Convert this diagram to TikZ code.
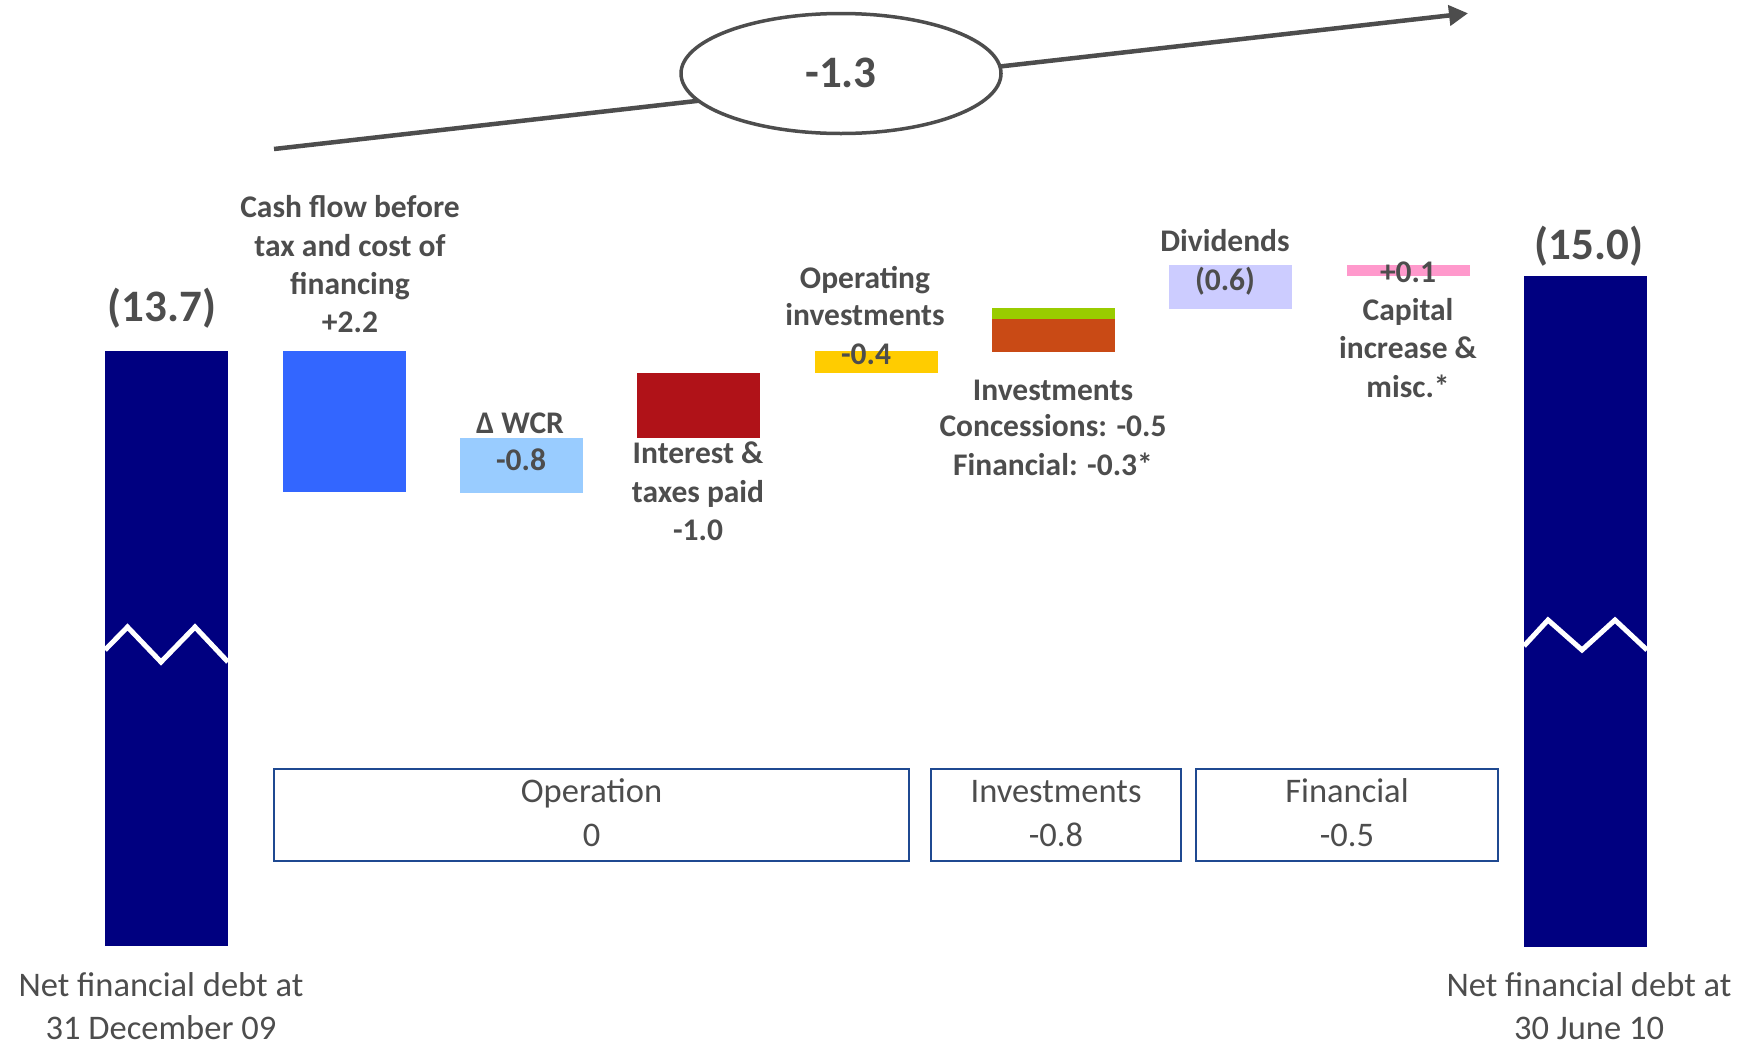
\documentclass[tikz,border=0pt]{standalone}
\usepackage{fontspec}
\setmainfont{Carlito}
\usetikzlibrary{arrows.meta,shapes.geometric}
\definecolor{txt}{RGB}{77,77,77}
\definecolor{linegray}{RGB}{77,77,77}
\definecolor{navybar}{RGB}{0,0,128}
\definecolor{bluebar}{RGB}{51,102,255}
\definecolor{wcrbar}{RGB}{153,204,255}
\definecolor{redbar}{RGB}{176,18,24}
\definecolor{yellowbar}{RGB}{255,204,0}
\definecolor{greenbar}{RGB}{153,204,0}
\definecolor{orangebar}{RGB}{201,74,21}
\definecolor{divbar}{RGB}{204,204,255}
\definecolor{pinkbar}{RGB}{255,153,204}
\definecolor{boxblue}{RGB}{31,73,145}
\begin{document}
\begin{tikzpicture}[x=1pt,y=-1pt,
  lb/.style={font=\bfseries\fontsize{31.5}{38}\selectfont, text=txt, anchor=base, inner sep=0},
  big/.style={font=\bfseries\fontsize{45}{54}\selectfont, text=txt, anchor=base, inner sep=0},
  rg/.style={font=\fontsize{34.5}{41}\selectfont, text=txt, anchor=base, inner sep=0},
  grp/.style={draw=boxblue, line width=2.5pt, fill=white},
  zig/.style={white, line width=5pt, line join=miter}]
\useasboundingbox (0,0) rectangle (1761,1047);

% trend arrow and ellipse
\coordinate (s) at (274,149);
\coordinate (t) at (1468,13.3);
\draw[linegray, line width=4.5pt, -{Triangle[length=19pt,width=20pt]}] (s) -- (t);
\node (ell) [ellipse, draw=linegray, line width=3.5pt, fill=white, minimum width=320pt, minimum height=120pt, inner sep=0] at (841,73.5) {};
\node (tot) [big] at (841,87) {-1.3};

% bars
\fill[navybar] (105,351) rectangle (228,946);
\draw[zig] (105,650) -- (127.5,627) -- (161,662) -- (195,627) -- (228,662);
\fill[bluebar] (283,351) rectangle (406,492);
\fill[wcrbar] (460,438) rectangle (583,493);
\fill[redbar] (637,373) rectangle (760,438);
\fill[yellowbar] (815,351) rectangle (938,373);
\fill[greenbar] (992,308) rectangle (1115,319);
\fill[orangebar] (992,319) rectangle (1115,352);
\fill[divbar] (1169,265) rectangle (1292,309);
\fill[pinkbar] (1347,265) rectangle (1470,276);
\fill[navybar] (1524,276) rectangle (1647,947);
\draw[zig] (1524,646) -- (1548,620) -- (1582,650) -- (1615,620) -- (1647,650);

% big values
\node (v1) [big] at (162,321) {(13.7)};
\node (v2) [big] at (1589,259) {(15.0)};

% labels
\node (a1) [lb] at (350,217) {Cash flow before};
\node (a2) [lb] at (350,256) {tax and cost of};
\node (a3) [lb] at (350,294) {financing};
\node (a4) [lb] at (350,332) {+2.2};

\node (b1) [lb] at (520,433) {Δ WCR};
\node (b2) [lb] at (521,470) {-0.8};

\node (c1) [lb] at (698,463) {Interest \&};
\node (c2) [lb] at (698,502) {taxes paid};
\node (c3) [lb] at (698,540) {-1.0};

\node (d1) [lb] at (865,288) {Operating};
\node (d2) [lb] at (865,325) {investments};
\node (d3) [lb] at (866,364) {-0.4};

\node (e1) [lb] at (1053,400) {Investments};
\node (e2) [lb] at (1053,436) {Concessions: -0.5};
\node (e3) [lb] at (1053,475) {Financial: -0.3*};

\node (f1) [lb] at (1225,251) {Dividends};
\node (f2) [lb] at (1225,290) {(0.6)};

\node (g1) [lb] at (1408,282) {+0.1};
\node (g2) [lb] at (1408,320) {Capital};
\node (g3) [lb] at (1408,358) {increase \&};
\node (g4) [lb] at (1408,397) {misc.*};

% group boxes
\draw[grp] (274,769) rectangle (909,861);
\draw[grp] (931,769) rectangle (1181,861);
\draw[grp] (1196,769) rectangle (1498,861);
\node (o1) [rg] at (591.5,802) {Operation};
\node (o2) [rg] at (591.5,846) {0};
\node (i1) [rg] at (1056,802) {Investments};
\node (i2) [rg] at (1056,846) {-0.8};
\node (n1) [rg] at (1347,802) {Financial};
\node (n2) [rg] at (1347,846) {-0.5};

% axis labels
\node (l1) [rg] at (161,996) {Net financial debt at};
\node (l2) [rg, text depth=0pt] at (161,1039) {31 December 09};
\node (r1) [rg] at (1589,996) {Net financial debt at};
\node (r2) [rg, text depth=0pt] at (1589,1039) {30 June 10};
\end{tikzpicture}
\end{document}
